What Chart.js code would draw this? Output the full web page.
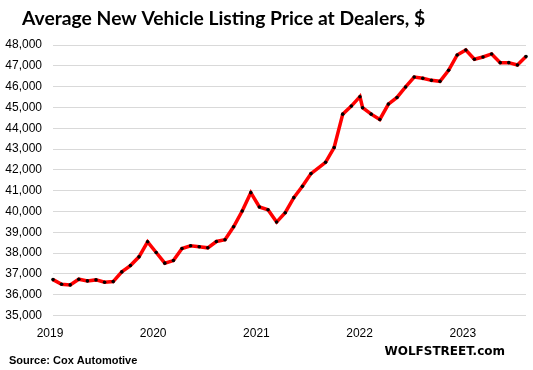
<!DOCTYPE html>
<html>
<head>
<meta charset="utf-8">
<script src="https://cdn.jsdelivr.net/npm/chart.js@4/dist/chart.umd.min.js"></script>
<style>
  html, body { margin: 0; padding: 0; background: #fff; }
  #wrap { width: 533px; height: 370px; position: relative; }
</style>
</head>
<body>
<div id="wrap"><canvas id="priceChart"></canvas></div>
<script>
// Average new vehicle listing price at dealers (Cox Automotive), $
const dates = [
  '2019-01-01', '2019-02-01', '2019-03-01', '2019-04-01', '2019-05-01', '2019-06-01',
  '2019-07-01', '2019-08-01', '2019-09-01', '2019-10-01', '2019-11-01', '2019-12-01',
  '2020-01-01', '2020-02-01', '2020-03-01', '2020-04-01', '2020-05-01', '2020-06-01',
  '2020-07-01', '2020-08-01', '2020-09-01', '2020-10-01', '2020-11-01', '2020-12-01',
  '2021-01-01', '2021-02-01', '2021-03-01', '2021-04-01', '2021-05-01', '2021-06-01',
  '2021-07-01', '2021-08-22', '2021-09-22', '2021-10-22', '2021-11-22', '2021-12-22',
  '2022-01-01', '2022-02-01', '2022-03-01', '2022-04-01', '2022-05-01', '2022-06-01',
  '2022-07-01', '2022-08-01', '2022-09-01', '2022-10-01', '2022-11-01', '2022-12-01',
  '2023-01-01', '2023-02-01', '2023-03-01', '2023-04-01', '2023-05-01', '2023-06-01',
  '2023-07-01', '2023-08-01'
];
const prices = [
  36725, 36503, 36470, 36745, 36663, 36711, 36600, 36630, 37096, 37400, 37819, 38542,
  38027, 37515, 37640, 38219, 38349, 38301, 38253, 38557, 38639, 39265, 40022, 40904,
  40214, 40084, 39490, 39940, 40663, 41207, 41819, 42364, 43072, 44677, 45063, 45516,
  44986, 44677, 44422, 45159, 45480, 45985, 46460, 46398, 46301, 46253, 46783, 47520,
  47761, 47313, 47424, 47569, 47152, 47152, 47039, 47443
];
const yearTicks = [2019, 2020, 2021, 2022, 2023];
const titleText = 'Average New Vehicle Listing Price at Dealers, $';
const sourceText = 'Source: Cox Automotive';
const brandText = 'WOLFSTREET.com';

// date string -> fractional year (months equal width)
const toYear = (d) => {
  const [y, m, day] = d.split('-').map(Number);
  return y + (m - 1) / 12 + (day - 1) / 365;
};
const points = dates.map((d, i) => ({ x: toYear(d), y: prices[i] }));

const textPlugin = {
  id: 'chartTexts',
  afterDraw(chart) {
    const c = chart.ctx;
    c.save();
    c.fillStyle = '#000';
    c.textBaseline = 'alphabetic';
    c.textAlign = 'left';
    c.font = 'bold 19.3px Lato';
    c.fillText(titleText, 22, 25);
    c.font = 'bold 11px "Liberation Sans"';
    c.fillText(sourceText, 9, 364);
    c.textAlign = 'right';
    c.font = 'bold 12px "DejaVu Sans"';
    c.fillText(brandText, 505, 355);
    c.restore();
  }
};

new Chart(document.getElementById('priceChart'), {
  type: 'line',
  data: {
    datasets: [{
      data: points,
      borderColor: '#ff0000',
      borderWidth: 3.5,
      pointRadius: 1.8,
      pointBackgroundColor: '#000',
      pointBorderWidth: 0,
      tension: 0,
      clip: false
    }]
  },
  options: {
    responsive: true,
    maintainAspectRatio: false,
    animation: false,
    layout: { padding: { left: 0, top: 45, right: 7, bottom: 0 } },
    plugins: { legend: { display: false }, tooltip: { enabled: false } },
    scales: {
      x: {
        type: 'linear',
        min: 2019,
        max: 2023 + 7 / 12,
        afterFit: (s) => { s.height = 54.5; },
        afterBuildTicks: (s) => { s.ticks = yearTicks.map(v => ({ value: v })); },
        grid: { display: false, drawTicks: false },
        border: { display: false },
        ticks: {
          padding: 11,
          labelOffset: -3,
          color: '#000',
          font: { family: '"Liberation Sans"', size: 12 },
          callback: (v) => String(v)
        }
      },
      y: {
        min: 35000,
        max: 48000,
        afterFit: (s) => { s.width = 53; },
        grid: { color: '#d9d9d9', lineWidth: 1, drawTicks: false },
        border: { display: false },
        ticks: {
          stepSize: 1000,
          padding: 11,
          color: '#000',
          font: { family: '"Liberation Sans"', size: 12 },
          callback: (v) => v.toLocaleString('en-US')
        }
      }
    }
  },
  plugins: [textPlugin]
});
</script>
</body>
</html>
